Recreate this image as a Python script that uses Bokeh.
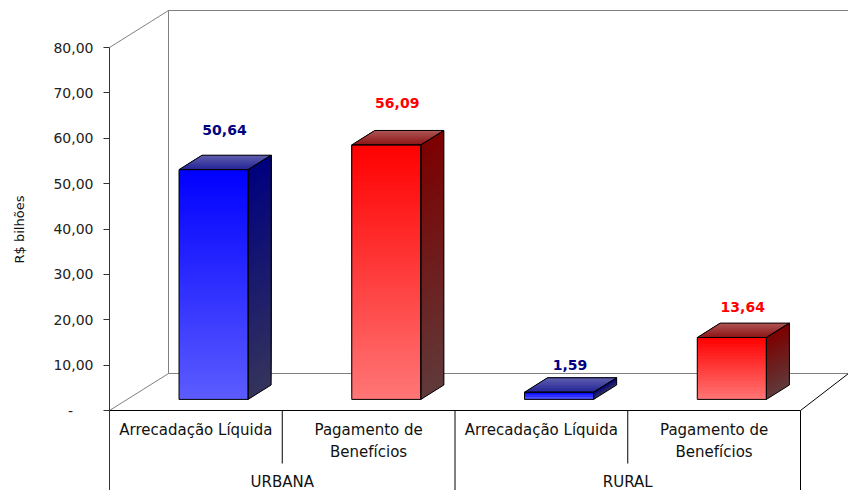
import numpy as np
from bokeh.plotting import figure
from bokeh.models import Range1d, FixedTicker, LinearAxis, ColumnDataSource
from bokeh.core.properties import value
from bokeh.embed import file_html
from bokeh.resources import INLINE

# ---------------- data ----------------
groups = ["URBANA", "RURAL"]
items = ["Arrecadação Líquida", "Pagamento de\nBenefícios"]
values = [50.64, 56.09, 1.59, 13.64]
value_texts = ["50,64", "56,09", "1,59", "13,64"]
y_ticks = [0, 10, 20, 30, 40, 50, 60, 70, 80]
y_tick_labels = ["-", "10,00", "20,00", "30,00", "40,00", "50,00", "60,00", "70,00", "80,00"]
axis_title = "R$ bilhões"

# ---------------- layout / style ----------------
W, H = 848, 490
AX_PX = 109              # page x of the value axis
ZERO_PX = 410            # page y of value 0
PX_X = 172.75            # px per category
PX_Y = 363.0 / 80.0      # px per value unit
XLO, XHI = -AX_PX / PX_X, (W - AX_PX) / PX_X
YLO, YHI = -(H - ZERO_PX) / PX_Y, ZERO_PX / PX_Y
DX = 59 / PX_X           # floor depth (x)
DY = 37 / PX_Y           # floor depth (y)
D_FRONT, D_BACK = 0.30, 0.69
BAR_W = 0.40
LBL_D = 0.485
FONT = "DejaVu Sans"

front_cols = [((0, 0, 255), (92, 92, 255)), ((255, 0, 0), (255, 118, 118))]   # top, bottom
side_cols = [((0, 0, 128), (52, 52, 92)), ((125, 0, 0), (96, 58, 58))]
topf_cols = [((35, 35, 150), (95, 95, 175)), ((140, 20, 20), (175, 85, 85))]   # front, back
label_cols = ["#000080", "#FF0000"]
wall_col = "#808080"
text_col = "#111111"


def lerp(c0, c1, t):
    return "#%02x%02x%02x" % tuple(int(round(a + (b - a) * t)) for a, b in zip(c0, c1))


p = figure(width=W, height=H, x_range=Range1d(XLO, XHI), y_range=Range1d(YLO, YHI),
           output_backend="svg", toolbar_location=None,
           x_axis_location=None, y_axis_location=None,
           min_border_left=0, min_border_right=0, min_border_top=0, min_border_bottom=0)
p.grid.visible = False
p.outline_line_color = None
p.background_fill_color = "white"

# ---------------- walls / floor ----------------
top = y_ticks[-1]
wx = [[0, DX], [DX, DX], [DX, XHI], [0, DX], [DX, XHI]]
wy = [[top, top + DY], [DY, top + DY], [top + DY, top + DY], [0, DY], [DY, DY]]
p.multi_line(wx, wy, line_color=wall_col, line_width=1)

n_cat = len(values)
p.multi_line([[0, n_cat], [n_cat, XHI]], [[0, 0], [0, DY]], line_color="black", line_width=1)

# ---------------- bars (gradient built from stacked strips) ----------------
fl, fr, fb, ft, fc = [], [], [], [], []
sxs, sys_, sc = [], [], []
txs, tys, tc = [], [], []
oxs, oys = [], []
ddx = (D_BACK - D_FRONT) * DX
ddy = (D_BACK - D_FRONT) * DY
for i, v in enumerate(values):
    s = i % 2
    xl = i + 0.5 - BAR_W / 2 + D_FRONT * DX
    xr = xl + BAR_W
    yb = D_FRONT * DY
    yt = yb + v
    n = max(3, int(v * PX_Y / 3))
    for k in range(n):
        y0 = yb + (yt - yb) * k / n
        f = (k + 0.5) / n
        fl.append(xl); fr.append(xr); fb.append(y0); ft.append(yt)
        fc.append(lerp(front_cols[s][1], front_cols[s][0], f))
        sxs.append([xr, xr + ddx, xr + ddx, xr])
        sys_.append([y0, y0 + ddy, yt + ddy, yt])
        sc.append(lerp(side_cols[s][1], side_cols[s][0], f))
    m = 10
    for k in range(m):
        a = k / m
        txs.append([xl + a * ddx, xr + a * ddx, xr + ddx, xl + ddx])
        tys.append([yt + a * ddy, yt + a * ddy, yt + ddy, yt + ddy])
        tc.append(lerp(topf_cols[s][0], topf_cols[s][1], (k + 0.5) / m))
    oxs += [[xl, xr, xr, xl], [xr, xr + ddx, xr + ddx, xr], [xl, xl + ddx, xr + ddx, xr]]
    oys += [[yb, yb, yt, yt], [yb, yb + ddy, yt + ddy, yt], [yt, yt + ddy, yt + ddy, yt]]

p.quad(left=fl, right=fr, bottom=fb, top=ft, fill_color=fc, line_color=None)
p.patches(sxs, sys_, fill_color=sc, line_color=None)
p.patches(txs, tys, fill_color=tc, line_color=None)
p.patches(oxs, oys, fill_color=None, line_color="black", line_width=1)

# ---------------- data labels ----------------
lsrc = ColumnDataSource(dict(
    x=[i + 0.5 + LBL_D * DX for i in range(n_cat)],
    y=[v + D_BACK * DY for v in values],
    off=[-(12.5 + 0.26 * v) for v in values],
    text=value_texts,
    color=[label_cols[i % 2] for i in range(n_cat)],
))
p.text(x="x", y="y", text="text", y_offset="off", source=lsrc, text_color="color",
       text_align="center", text_baseline="alphabetic", text_font=value(FONT),
       text_font_style="bold", text_font_size="14px")

# ---------------- category table ----------------
cat_x = [i + 0.5 for i in range(n_cat)]
cat_t = [items[i % 2] for i in range(n_cat)]
p.text(x=cat_x, y=[-10 / PX_Y] * n_cat, text=cat_t, text_align="center", text_baseline="top",
       text_font=value(FONT), text_font_size="15px", text_color=text_col,
       text_line_height=1.25)
p.text(x=[1, 3], y=[-71 / PX_Y] * 2, text=groups, text_align="center", text_baseline="middle",
       text_font=value(FONT), text_font_size="15px", text_color=text_col)
p.multi_line([[1, 1], [3, 3], [2, 2], [4, 4]],
             [[0, -53 / PX_Y], [0, -53 / PX_Y], [0, YLO], [0, YLO]],
             line_color="black", line_width=1)

# ---------------- value axis ----------------
ax = LinearAxis(fixed_location=0)
ax.ticker = FixedTicker(ticks=y_ticks)
overrides = {t: lab for t, lab in zip(y_ticks, y_tick_labels)}
overrides[y_ticks[0]] = ""
ax.major_label_overrides = overrides
ax.bounds = (YLO, top)
ax.axis_line_color = "#333333"
ax.major_tick_line_color = "#333333"
ax.minor_tick_line_color = None
ax.major_tick_in = 0
ax.major_tick_out = 6
ax.major_label_standoff = 10
ax.major_label_text_font = FONT
ax.major_label_text_font_size = "14px"
ax.major_label_text_color = "#222222"
p.add_layout(ax, "left")

p.text(x=[-39 / PX_X], y=[0], text=[y_tick_labels[0]], text_align="center",
       text_baseline="middle", text_font=value(FONT), text_font_size="14px",
       text_color="#222222")
p.text(x=[-90 / PX_X], y=[(ZERO_PX - 229) / PX_Y], text=[axis_title], angle=np.pi / 2,
       text_align="center", text_baseline="middle", text_font=value(FONT),
       text_font_size="13px", text_color=text_col)

open("out.html", "w").write(file_html(p, INLINE))
